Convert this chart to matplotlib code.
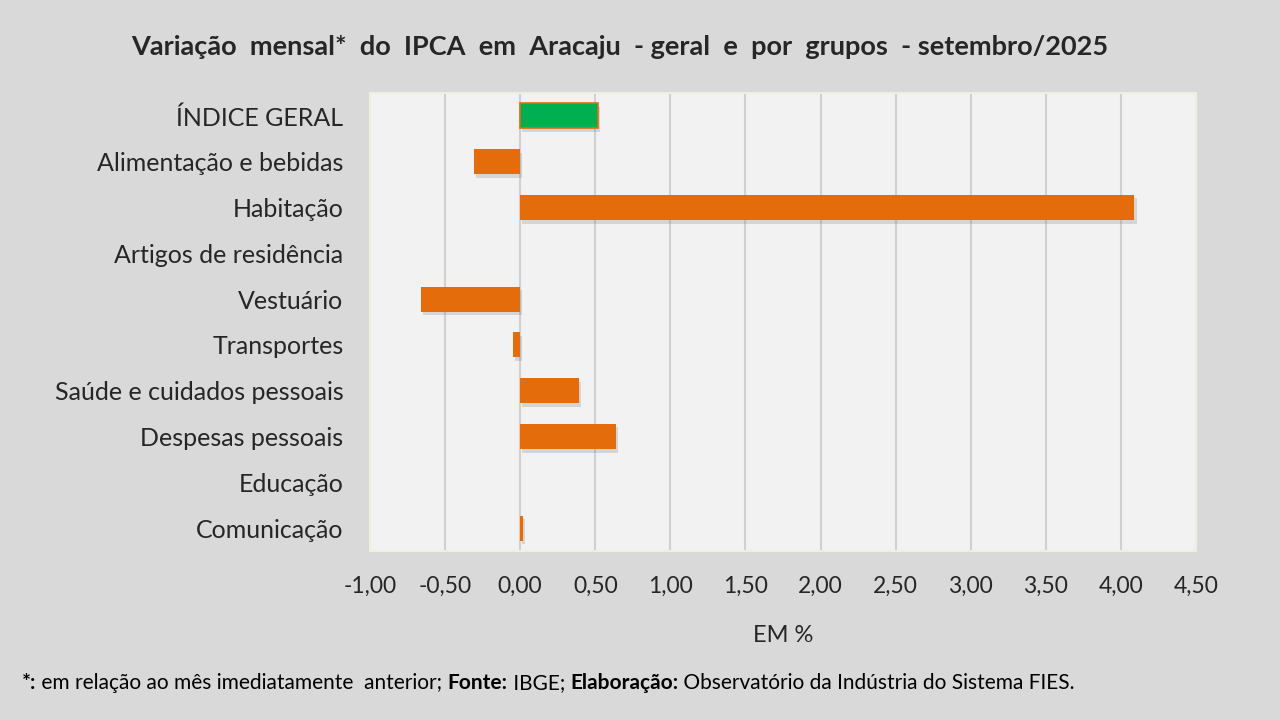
import matplotlib.pyplot as plt
import matplotlib.patheffects as pe

categories = ['ÍNDICE GERAL', 'Alimentação e bebidas', 'Habitação', 'Artigos de residência',
              'Vestuário', 'Transportes', 'Saúde e cuidados pessoais', 'Despesas pessoais',
              'Educação', 'Comunicação']
values = [0.52, -0.31, 4.09, 0.00, -0.66, -0.05, 0.39, 0.64, 0.00, 0.02]
xticks = [-1.0, -0.5, 0.0, 0.5, 1.0, 1.5, 2.0, 2.5, 3.0, 3.5, 4.0, 4.5]

orange = '#e46c0a'
green = '#00b050'
bg = '#d9d9d9'

plt.rcParams['font.family'] = ['Lato', 'DejaVu Sans']

fig = plt.figure(figsize=(12.8, 7.2), dpi=100, facecolor=bg)
ax = fig.add_axes([370 / 1280, 1 - 551 / 720, (1196 - 370) / 1280, (551 - 93) / 720])
ax.set_facecolor('#f2f2f2')

colors = [green] + [orange] * (len(values) - 1)
ypos = list(range(len(categories)))
bars = ax.barh(ypos, values, height=0.55, color=colors, zorder=3)
bars[0].set_edgecolor(orange)
bars[0].set_linewidth(1.2)
for b in bars:
    if b.get_width() != 0:
        b.set_path_effects([pe.SimplePatchShadow(offset=(1.5, -2.5), alpha=0.25, shadow_rgbFace='#7f7f7f'),
                            pe.Normal()])

ax.set_ylim(len(categories) - 0.5, -0.5)
ax.set_xlim(-1.0, 4.5)
ax.set_yticks(ypos)
ax.set_yticklabels(categories, fontsize=18, color='#262626')
ax.set_xticks(xticks)
ax.set_xticklabels([f'{t:.2f}'.replace('.', ',') for t in xticks], fontsize=16.5, color='#262626')
ax.tick_params(axis='both', length=0)
ax.tick_params(axis='x', pad=18)
ax.tick_params(axis='y', pad=19)
ax.grid(axis='x', color='#d0d0d0', linewidth=1.5, zorder=0)
for s in ax.spines.values():
    s.set_color('#ebf1de')
    s.set_linewidth(1.5)

ax.set_xlabel('EM %', fontsize=17, color='#262626', labelpad=20)

fig.text(620 / 1280, 1 - 47 / 720,
         'Variação  mensal*  do  IPCA  em  Aracaju  - geral  e  por  grupos  - setembro/2025',
         ha='center', va='center', fontsize=19.5, fontweight='bold', color='#262626')

# footer with mixed bold/normal pieces
pieces = [('*:', 'bold'), (' em relação ao mês imediatamente  anterior; ', 'normal'),
          ('Fonte:', 'bold'), (' IBGE; ', 'normal'), ('Elaboração:', 'bold'),
          (' Observatório da Indústria do Sistema FIES.', 'normal')]
fig.canvas.draw()
renderer = fig.canvas.get_renderer()
x = 22
for txt, w in pieces:
    t = fig.text(x / 1280, 1 - 683 / 720, txt, ha='left', va='center', fontsize=15,
                 fontweight=w, color='#000000')
    x += t.get_window_extent(renderer).width

fig.savefig('out.png', dpi=100, facecolor=bg)
